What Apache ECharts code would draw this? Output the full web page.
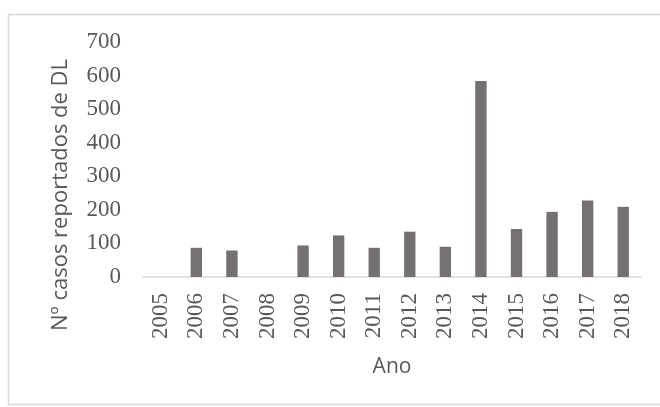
<!DOCTYPE html>
<html><head><meta charset="utf-8">
<script src="https://cdn.jsdelivr.net/npm/echarts@6/dist/echarts.min.js"></script>
<style>html,body{margin:0;padding:0;background:#fff}#c{width:660px;height:407px}</style>
</head><body><div id="c"></div>
<script>
const categories = ['2005','2006','2007','2008','2009','2010','2011','2012','2013','2014','2015','2016','2017','2018'];
const casos = [0, 87, 79, 0, 94, 124, 87, 135, 90, 584, 143, 194, 228, 209];
const yTicks = [0, 100, 200, 300, 400, 500, 600, 700];

const chart = echarts.init(document.getElementById('c'), null, {renderer: 'canvas'});
chart.setOption({
  animation: false,
  backgroundColor: '#fff',
  grid: {left: 143, right: 19, top: 42, bottom: 130, containLabel: false},
  graphic: [
    {type: 'rect', shape: {x: 8.5, y: 14.5, width: 700, height: 390}, style: {fill: 'none', stroke: '#d9d9d9', lineWidth: 1.5}},
    {type: 'text', x: 61, y: 195, rotation: Math.PI / 2, style: {text: 'Nº casos reportados de DL', font: '22px "Open Sans"', fill: '#595959', align: 'center', verticalAlign: 'middle'}}
  ],
  xAxis: {
    type: 'category', data: categories,
    name: 'Ano', nameLocation: 'middle', nameGap: 80,
    nameTextStyle: {fontFamily: 'Open Sans', fontSize: 21, color: '#595959'},
    axisLine: {lineStyle: {color: '#d9d9d9', width: 1.5}},
    axisTick: {show: false},
    axisLabel: {rotate: 90, margin: 16, fontFamily: 'Liberation Serif', fontSize: 23, color: '#595959', interval: 0}
  },
  yAxis: {
    type: 'value', min: yTicks[0], max: yTicks[yTicks.length - 1], interval: 100,
    axisLine: {show: false}, axisTick: {show: false}, splitLine: {show: false},
    axisLabel: {margin: 22, fontFamily: 'Liberation Serif', fontSize: 23, color: '#595959'}
  },
  series: [{
    type: 'bar', data: casos, barCategoryGap: '68%',
    itemStyle: {color: '#767171', borderWidth: 0}
  }]
});
</script></body></html>
